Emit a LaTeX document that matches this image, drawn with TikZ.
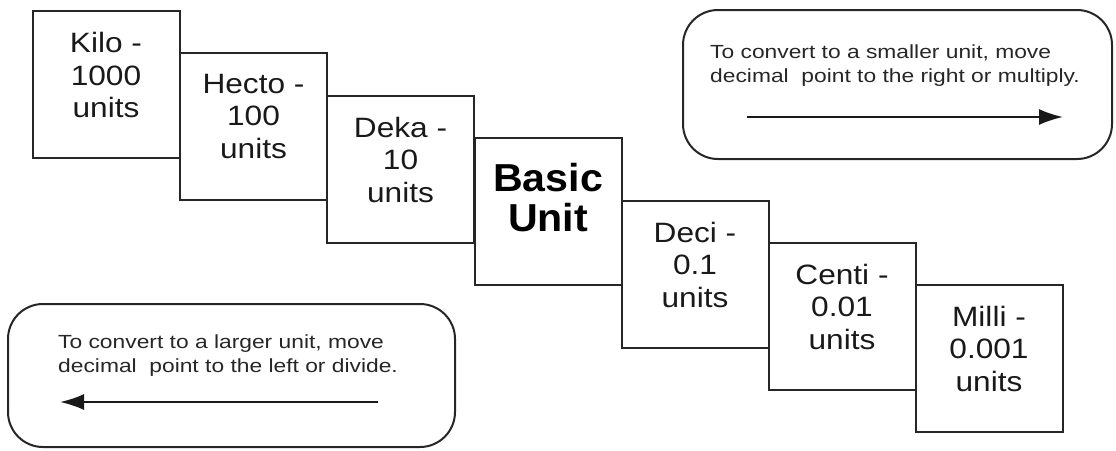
\documentclass[tikz,border=0pt]{standalone}
\usepackage{fontspec}
\setmainfont{Liberation Sans}
\newfontfamily\unitfont[FakeStretch=1.13]{Liberation Sans}
\newfontfamily\basicfont[FakeStretch=1.055]{Liberation Sans}
\newfontfamily\notefont[FakeStretch=1.2]{Liberation Sans}
\usetikzlibrary{arrows.meta}
\begin{document}
\begin{tikzpicture}[x=1pt,y=-1pt,
  unitbox/.style={draw=black!85, line width=2pt, minimum width=147pt, minimum height=147pt, inner sep=0pt},
  unittext/.style={align=center, inner sep=0pt, text=black!90, font=\unitfont\fontsize{28}{32.5}\selectfont},
  basictext/.style={align=center, inner sep=0pt, text=black, font=\basicfont\bfseries\fontsize{39}{40}\selectfont},
  notebox/.style={draw=black!85, line width=2pt, rounded corners=35pt, inner sep=0pt},
  notetext/.style={anchor=west, align=left, inner sep=0pt, text=black!85, font=\notefont\fontsize{19}{24}\selectfont},
  convarrow/.style={line width=2pt, draw=black!90, -{Latex[length=24pt,width=16pt]}}
]
\useasboundingbox (0,0) rectangle (1116,450);
% unit boxes
\node[unitbox] (kilo)  at (106,84.5) {};
\node[unitbox] (hecto) at (253.5,126) {};
\node[unitbox] (deka)  at (400.5,169) {};
\node[unitbox] (basic) at (548,211) {};
\node[unitbox] (deci)  at (695,274) {};
\node[unitbox] (centi) at (842,316) {};
\node[unitbox] (milli) at (989,358) {};
% texts
\node[unittext] (kilot)  at ([yshift=9.5pt]kilo.center) {Kilo -\\1000\\units};
\node[unittext] (hectot) at ([yshift=9.5pt]hecto.center) {Hecto -\\100\\units};
\node[unittext] (dekat)  at ([yshift=9.5pt]deka.center) {Deka -\\10\\units};
\node[basictext] (basict) at ([yshift=13pt]basic.center) {Basic\\Unit};
\node[unittext] (decit)  at ([yshift=9.5pt]deci.center) {Deci -\\0.1\\units};
\node[unittext] (centit) at ([yshift=9.5pt]centi.center) {Centi -\\0.01\\units};
\node[unittext] (millit) at ([yshift=9.5pt]milli.center) {Milli -\\0.001\\units};
% note boxes
\node[notebox, minimum width=429pt, minimum height=149pt] (smaller) at (897.5,84.5) {};
\node[notetext] (smallert) at (710,66) {To convert to a smaller unit, move\\decimal\ \ point to the right or multiply.};
\coordinate (sa) at (747,117);
\coordinate (sb) at (1063,117);
\draw[convarrow] (sa) -- (sb);
\node[notebox, minimum width=447pt, minimum height=143pt] (larger) at (231.5,375.5) {};
\node[notetext] (largert) at (58,356) {To convert to a larger unit, move\\decimal\ \ point to the left or divide.};
\coordinate (la) at (378,402);
\coordinate (lb) at (60,402);
\draw[convarrow] (la) -- (lb);
\end{tikzpicture}
\end{document}
